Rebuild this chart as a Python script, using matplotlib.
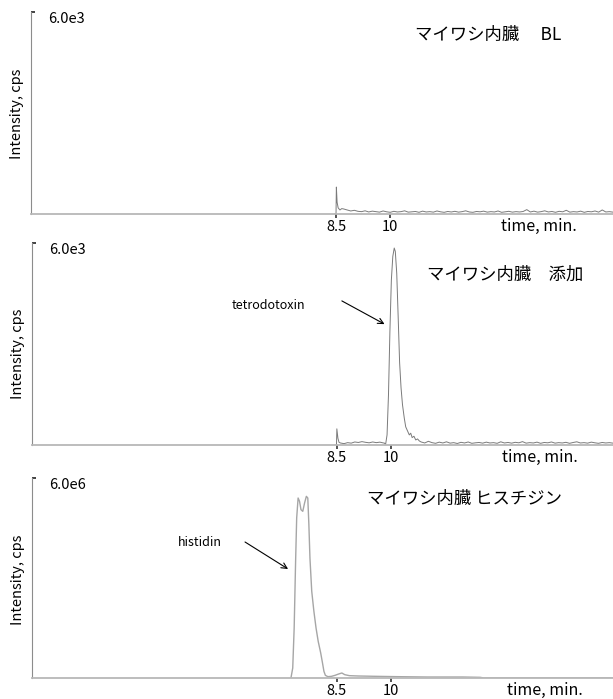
import numpy as np
import matplotlib
matplotlib.use("Agg")
import matplotlib.pyplot as plt

plt.rcParams['font.family'] = ['Noto Sans CJK JP', 'DejaVu Sans']

# ---- data ----
# blank (BL): spike at 8.5 min then baseline noise
bl_time = [8.45, 8.49, 8.5, 8.52, 8.55, 8.6, 8.65]
bl_int = [0, 0, 800, 350, 180, 120, 160]
bl_noise = [150, 120, 90, 110, 80, 70, 95, 60, 85, 70,
            55, 90, 65, 50, 80, 60, 70, 95, 55, 65,
            75, 50, 85, 60, 70, 55, 90, 65, 50, 75,
            60, 80, 55, 70, 95, 60, 50, 75, 65, 85,
            55, 70, 60, 90, 50, 65, 80, 55, 70, 60,
            75, 130, 60, 85, 55, 70, 95, 60, 75, 50,
            80, 65, 110, 55, 70, 60, 85, 50, 75, 65,
            90, 55, 120, 60, 70, 55]

# spiked sample: tetrodotoxin peak around 10.1 min
sp_time1 = [8.45, 8.49, 8.5, 8.53, 8.56]
sp_int1 = [0, 0, 480, 200, 80]
sp_noise1 = [60, 40, 70, 55, 90, 75, 100, 80, 65, 90, 70, 85, 60]
sp_peak_time = [9.82, 9.86, 9.9, 9.94, 9.98, 10.02, 10.06, 10.1, 10.13, 10.17,
                10.21, 10.25, 10.29, 10.33, 10.38, 10.42, 10.47, 10.52, 10.56,
                10.6, 10.65, 10.7, 10.75, 10.8]
sp_peak_int = [60, 20, 300, 1500, 3400, 4900, 5600, 5850, 5750, 5100,
               3800, 2450, 1700, 1200, 800, 540, 420, 300, 350,
               220, 260, 150, 180, 120]
sp_noise2 = [90, 60, 110, 70, 50, 85, 60, 95, 55, 70,
             45, 80, 60, 90, 50, 65, 75, 55, 85, 60,
             70, 50, 95, 60, 75, 55, 80, 65, 100, 55,
             70, 60, 85, 50, 75, 65, 90, 55, 70, 60,
             80, 50, 75, 95, 60, 70, 55, 85, 65, 50,
             75, 60, 70, 55]

# histidine
hi_time = [7.22, 7.27, 7.31, 7.35, 7.38, 7.42, 7.46, 7.5, 7.55, 7.6,
           7.65, 7.69, 7.72, 7.75, 7.8, 7.86, 7.92, 7.98, 8.05, 8.1,
           8.14, 8.18, 8.25, 8.35, 8.45, 8.55, 8.64, 8.72, 8.85, 9.1,
           9.6, 10.2, 11.0, 12.0, 12.5, 12.6]
hi_int = [0, 0.3, 1.5, 3.5, 4.8, 5.4, 5.3, 5.05, 5.0, 5.25,
          5.45, 5.4, 4.6, 3.6, 2.6, 2.0, 1.5, 1.1, 0.75, 0.45,
          0.2, 0.08, 0.04, 0.05, 0.08, 0.12, 0.15, 0.1, 0.07, 0.06,
          0.05, 0.04, 0.03, 0.03, 0.02, 0.0]

titles = ['マイワシ内臓　 BL', 'マイワシ内臓　添加', 'マイワシ内臓 ヒスチジン']
ymax_list = [6000, 6000, 6.0e6]
ymax_labels = ['6.0e3', '6.0e3', '6.0e6']
xtick_vals = [8.5, 10]
xtick_labels = ['8.5', '10']
xmax = 16.2

bl_t = bl_time + list(np.linspace(8.7, xmax, len(bl_noise)))
bl_y = bl_int + bl_noise
sp_t = sp_time1 + list(np.linspace(8.6, 9.8, len(sp_noise1))) + sp_peak_time \
    + list(np.linspace(10.85, xmax, len(sp_noise2)))
sp_y = sp_int1 + sp_noise1 + sp_peak_int + sp_noise2
hi_t = hi_time + [xmax]
hi_y = [v * 1e6 for v in hi_int] + [0]

W, H = 613, 699
fig = plt.figure(figsize=(W / 100, H / 100), dpi=100)

# panel frames in pixels: left, top, bottom
frames = [(31, 12, 214), (32, 243, 445), (32, 478, 678)]
traces = [(bl_t, bl_y, '#7a7a7a', 0.7), (sp_t, sp_y, '#7a7a7a', 0.7),
          (hi_t, hi_y, '#a6a6a6', 1.0)]
title_pos = [(415, 35), (427, 275), (367, 499)]
ylab_y = [114, 354, 580]
xlab_x = [539, 540, 545]

axes = []
for i, (l, t, b) in enumerate(frames):
    ax = fig.add_axes([l / W, 1 - b / H, (W - l) / W, (b - t) / H])
    axes.append(ax)
    x, y, c, lw = traces[i]
    ax.plot(x, y, color=c, lw=lw)
    ax.set_xlim(0, xmax)
    ax.set_ylim(0, ymax_list[i])
    for s in ['top', 'right']:
        ax.spines[s].set_visible(False)
    ax.spines['left'].set_color('#8c8c8c')
    ax.spines['left'].set_linewidth(0.8)
    ax.spines['bottom'].set_color('#b8b8b8')
    ax.spines['bottom'].set_linewidth(1.3)

    ax.set_xticks(xtick_vals)
    ax.set_xticklabels(xtick_labels, fontsize=10.5)
    ax.tick_params(axis='x', direction='out', length=3, width=1.2, color='#333333', pad=1.5)

    ax.set_yticks([ymax_list[i]])
    ax.set_yticklabels([ymax_labels[i]], fontsize=10.5, ha='left', va='top')
    ax.tick_params(axis='y', direction='in', length=3, width=1.2, color='#222222', pad=-12)

    h = b - t
    ax.set_xlabel('time, min.', fontsize=11.5)
    ax.xaxis.set_label_coords((xlab_x[i] - l) / (W - l), -4 / h)
    ax.set_ylabel('Intensity, cps', fontsize=10.5)
    ax.yaxis.set_label_coords(-7 / (W - l), 1 - (ylab_y[i] - t) / h)

    tx, ty = title_pos[i]
    ax.text((tx - l) / (W - l), 1 - (ty - t) / h, titles[i], transform=ax.transAxes,
            fontsize=12.5, ha='left', va='center')

arrow = dict(arrowstyle='->', color='black', lw=0.8, shrinkA=0, shrinkB=0)
axes[1].text(5.57, 4150, 'tetrodotoxin', fontsize=9, ha='left', va='center')
axes[1].annotate('', xy=(9.83, 3590), xytext=(8.64, 4280), arrowprops=arrow)
axes[2].text(4.06, 4.05e6, 'histidin', fontsize=9, ha='left', va='center')
axes[2].annotate('', xy=(7.14, 3.27e6), xytext=(5.94, 4.08e6), arrowprops=arrow)

fig.savefig('out.png', dpi=100)
